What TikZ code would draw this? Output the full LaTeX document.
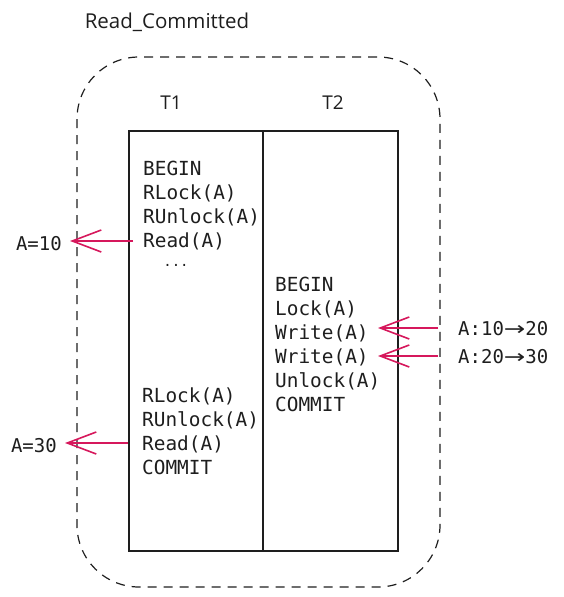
\documentclass[tikz,border=0pt]{standalone}
\usepackage{fontspec}
\usepackage{graphicx}
\setmonofont{DejaVu Sans Mono}
\newfontfamily\handfont{Open Sans}
\newfontfamily\arrowfont{DejaVu Sans}
\usetikzlibrary{arrows.meta}
\definecolor{ink}{HTML}{1E1E1E}
\definecolor{arrowpink}{HTML}{D6185C}
\newcommand{\rarr}{\scalebox{1.35}[1]{\arrowfont →}}
\tikzset{
  code/.style={font=\ttfamily\fontsize{19.4}{24}\selectfont, align=left, inner sep=0pt, anchor=north west, text=ink},
  hand/.style={font=\handfont\fontsize{19}{22}\selectfont, text=ink, inner sep=0pt},
  lbl/.style={font=\ttfamily\fontsize{19}{22}\selectfont, text=ink, inner sep=0pt},
  parrow/.style={draw=arrowpink, line width=1.6pt, -{Straight Barb[length=29pt,width=22pt,line width=1.6pt]}},
}
\begin{document}
\begin{tikzpicture}[x=1pt,y=-1pt]
\useasboundingbox (0,0) rectangle (564,597);
% title
\node[hand, font=\handfont\fontsize{20.5}{24}\selectfont] (title) at (167,22) {Read\_Committed};
% dashed frame
\draw[ink, line width=1.2pt, dash pattern=on 9pt off 7pt, rounded corners=62pt] (77,57) rectangle (440,587);
% column labels
\node[hand] (t1) at (171,103) {T1};
\node[hand] (t2) at (333,103) {T2};
% table
\draw[ink, line width=1.2pt] (129,131) rectangle (398,551);
\draw[ink, line width=1.2pt] (263,131) -- (263,551);
% T1 blocks
\node[code] (t1a) at (143,161) {BEGIN\\RLock(A)\\RUnlock(A)\\Read(A)};
\node[font=\ttfamily\fontsize{14}{16}\selectfont, text=ink, inner sep=0pt, anchor=base] (dots) at (176,266) {...};
\node[code] (t1b) at (142,388) {RLock(A)\\RUnlock(A)\\Read(A)\\COMMIT};
% T2 block
\node[code] (t2a) at (275,277) {BEGIN\\Lock(A)\\Write(A)\\Write(A)\\Unlock(A)\\COMMIT};
% value labels
\node[lbl, anchor=east] (v10) at (62,244) {A=10};
\node[lbl, anchor=east] (v30) at (57,446) {A=30};
\node[lbl, anchor=west] (w20) at (458,329) {A:10\rarr20};
\node[lbl, anchor=west] (w30) at (458,357) {A:20\rarr30};
% arrow endpoints
\coordinate (s1) at (133,241);
\coordinate (e1) at (70,241);
\coordinate (s2) at (128,443);
\coordinate (e2) at (65,443);
\coordinate (s3) at (438,328);
\coordinate (e3) at (378,328);
\coordinate (s4) at (438,356);
\coordinate (e4) at (378,356);
\draw[parrow] (s1) -- (e1);
\draw[parrow] (s2) -- (e2);
\draw[parrow] (s3) -- (e3);
\draw[parrow] (s4) -- (e4);
\end{tikzpicture}
\end{document}
